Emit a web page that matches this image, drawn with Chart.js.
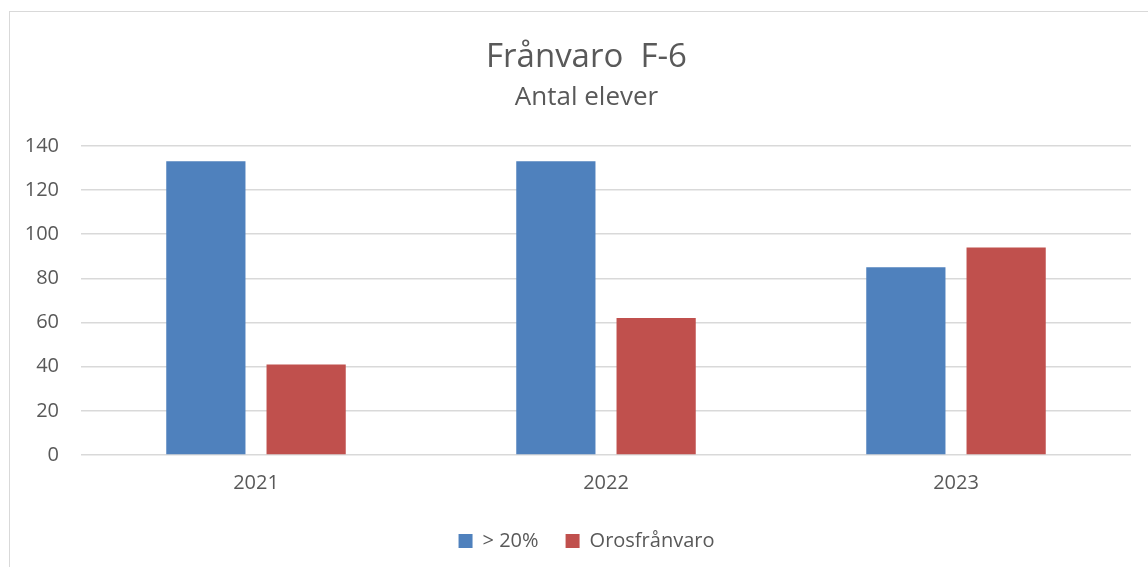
<!DOCTYPE html>
<html>
<head>
<meta charset="utf-8">
<script src="https://cdn.jsdelivr.net/npm/chart.js@4"></script>
<style>
  body { margin: 0; background: #fff; overflow: hidden; }
  #frame { position: absolute; left: 9px; top: 11px; width: 1200px; height: 600px; border: 1px solid #d9d9d9; }
  #wrap { position: absolute; left: 0; top: 0; width: 1148px; height: 567px; }
</style>
</head>
<body>
<div id="frame"></div>
<div id="wrap"><canvas id="myChart"></canvas></div>
<script>
// data
const years = ['2021', '2022', '2023'];
const over20 = [133, 133, 85];
const oros = [41, 62, 94];
const seriesNames = ['> 20%', 'Orosfrånvaro'];

const textColor = '#595959';
const fontName = "'Open Sans', 'Noto Sans', sans-serif";

Chart.defaults.font.family = fontName;
Chart.defaults.color = textColor;

// the original frame is wider than the window, so title and legend sit a bit right of centre
const shiftBoxes = {
  id: 'shiftBoxes',
  afterLayout(chart) {
    chart.boxes.forEach(b => {
      if (b.isHorizontal && !b.axis) {
        b.left += 21;
        b.right += 21;
      }
    });
  }
};

new Chart('myChart', {
  type: 'bar',
  data: {
    labels: years,
    datasets: [
      {
        label: seriesNames[0],
        data: over20,
        backgroundColor: '#4f81bd'
      },
      {
        label: seriesNames[1],
        data: oros,
        backgroundColor: '#c0504d'
      }
    ]
  },
  options: {
    responsive: true,
    maintainAspectRatio: false,
    animation: false,
    datasets: {
      bar: { categoryPercentage: 0.573, barPercentage: 0.79 }
    },
    layout: { padding: { top: 0, left: 0, right: 17, bottom: 6 } },
    plugins: {
      title: {
        display: true,
        text: 'Frånvaro  F-6',
        color: textColor,
        font: { size: 33, weight: 'normal' },
        padding: { top: 38, bottom: 3 }
      },
      subtitle: {
        display: true,
        text: 'Antal elever',
        color: textColor,
        font: { size: 26, weight: 'normal' },
        padding: { top: 1, bottom: 33 }
      },
      legend: {
        position: 'bottom',
        labels: {
          boxWidth: 14,
          boxHeight: 14,
          padding: 27,
          font: { size: 20 },
          color: textColor
        }
      },
      tooltip: { enabled: false }
    },
    scales: {
      x: {
        grid: { display: false, drawTicks: false },
        border: { display: false },
        ticks: { padding: 16, font: { size: 20 }, color: textColor },
        afterFit: (s) => { s.height = 49; }
      },
      y: {
        min: 0,
        max: 140,
        ticks: { stepSize: 20, padding: 22, font: { size: 20 }, color: textColor },
        grid: { color: '#d9d9d9', lineWidth: 1.5, drawTicks: false },
        border: { display: false },
        afterFit: (s) => { s.width = 81; }
      }
    }
  },
  plugins: [shiftBoxes]
});
</script>
</body>
</html>
